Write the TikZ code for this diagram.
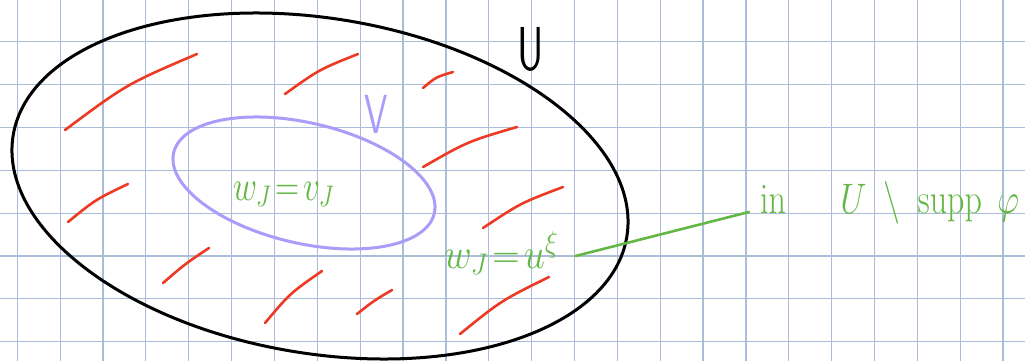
\RequirePackage{fix-cm}
\documentclass[tikz,border=0pt]{standalone}
\definecolor{gridc}{RGB}{170,188,216}
\definecolor{hatch}{RGB}{236,58,36}
\definecolor{vcol}{RGB}{172,156,250}
\definecolor{gcol}{RGB}{98,184,68}
\tikzset{
  gridline/.style={gridc, line width=1.2pt},
  setU/.style={black, line width=3pt},
  setV/.style={vcol, line width=3pt},
  hatchline/.style={hatch, line width=2.6pt, line cap=round},
  glabel/.style={gcol, inner sep=3pt, yscale=1.12, font=\fontsize{38}{44}\selectfont},
  leader/.style={gcol, line width=2.6pt, line cap=round},
}
\begin{document}
\begin{tikzpicture}[x=1pt,y=-1pt]
\useasboundingbox (0,0) rectangle (1025,361);
\fill[white] (0,0) rectangle (1025,361);
% grid paper
\foreach \k in {0,...,23} {
  \draw[gridline] ({17.3+42.86*\k},0) -- ({17.3+42.86*\k},361);
}
\foreach \k in {0,...,7} {
  \draw[gridline] (0,{41.7+42.86*\k}) -- (1025,{41.7+42.86*\k});
}
% set U
\draw[setU, rotate around={-9.4:(320,186)}] (320,186) ellipse [x radius=311, y radius=167.6];
% set V
\draw[setV, rotate around={-13.1:(304,183)}] (304,183) ellipse [x radius=133.8, y radius=60.2];
% hatching of U \ V
\draw[hatchline] (65,130) .. controls (126.5,84.2) .. (197,54);
\draw[hatchline] (285,94) .. controls (319,69.6) .. (358,54);
\draw[hatchline] (423,88) .. controls (436,77) .. (453,72);
\draw[hatchline] (423,167) .. controls (467.6,141.5) .. (517,127);
\draw[hatchline] (68,222) .. controls (95.7,199.4) .. (128,184);
\draw[hatchline] (163,283) .. controls (185,264) .. (209,248);
\draw[hatchline] (265,323) .. controls (290,293.3) .. (322,271);
\draw[hatchline] (483,228) .. controls (520.7,203) .. (563,187);
\draw[hatchline] (357,314) .. controls (373.7,300.8) .. (392,290);
\draw[hatchline] (460,334) .. controls (501.3,300.5) .. (549,277);
% labels
\node[black, xscale=0.66, font=\fontsize{62}{62}\selectfont\sffamily] (lblU) at (531,49) {U};
\node[vcol, xscale=0.68, font=\fontsize{55}{55}\selectfont\sffamily] (lblV) at (376,114) {V};
\node[glabel, xscale=0.88, anchor=base west] (inV) at (230,200) {$w_J\!=\!v_J$};
\node[glabel, anchor=base west] (outV) at (441,268) {$w_J\!=\!u^{\xi}$};
\node[glabel, yscale=1.12, anchor=base west, font=\fontsize{34}{40}\selectfont] (where) at (757,213)
  {$\mathrm{in}\hspace{1.6em}U\hspace{0.5em}{\setminus}\hspace{0.5em}\mathrm{supp}\hspace{0.45em}\varphi$};
\draw[leader] ([xshift=14pt,yshift=12pt]outV.base east) -- ([xshift=-8pt,yshift=1pt]where.base west);
\end{tikzpicture}
\end{document}
